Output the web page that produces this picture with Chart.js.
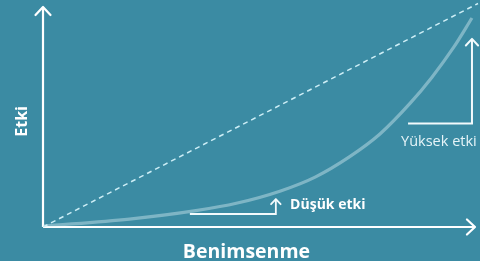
<!DOCTYPE html>
<html>
<head>
<meta charset="utf-8">
<script src="https://cdn.jsdelivr.net/npm/chart.js@4/dist/chart.umd.min.js"></script>
<style>
  html, body { margin: 0; padding: 0; background: #3b8ba3; }
  #wrap { width: 480px; height: 261px; position: relative; }
</style>
</head>
<body>
<div id="wrap"><canvas id="grafico"></canvas></div>
<script>
// dados (escala 0..100 nos dois eixos)
var curva_x = [0, 20, 35, 45, 55, 63, 71, 78, 85, 90, 95, 99.3];
var curva_y = [0.4, 3.6, 7.3, 10.9, 16.4, 22.7, 32, 42.3, 56.3, 68, 81.5, 95];
var diagonal_x = [0, 100.7];
var diagonal_y = [0, 101.6];
var baixo_x = [34, 53.9, 53.9];
var baixo_y = [5.9, 5.9, 12.7];
var alto_x = [84.5, 99.3, 99.3];
var alto_y = [47, 47, 85.5];
var titulo_x = 'Benimsenme';
var titulo_y = 'Etki';
var rotulo_baixo = 'Düşük etki';
var rotulo_alto = 'Yüksek etki';

function pares(xs, ys) {
    var out = [];
    for (var i = 0; i < xs.length; i++) {
        out.push({ x: xs[i], y: ys[i] });
    }
    return out;
}

// desenha a ponta de seta no ultimo ponto das linhas marcadas
var setas = {
    id: 'setas',
    afterDatasetsDraw: function (chart) {
        var ctx = chart.ctx;
        chart.data.datasets.forEach(function (ds, i) {
            if (!ds.seta) return;
            var pts = chart.getDatasetMeta(i).data;
            var a = pts[pts.length - 2], b = pts[pts.length - 1];
            var ang = Math.atan2(b.y - a.y, b.x - a.x);
            var t = ds.seta;
            ctx.save();
            ctx.strokeStyle = ds.borderColor;
            ctx.lineWidth = ds.borderWidth;
            ctx.lineCap = 'round';
            ctx.lineJoin = 'round';
            ctx.beginPath();
            ctx.moveTo(b.x - t * Math.cos(ang - 0.75), b.y - t * Math.sin(ang - 0.75));
            ctx.lineTo(b.x, b.y);
            ctx.lineTo(b.x - t * Math.cos(ang + 0.75), b.y - t * Math.sin(ang + 0.75));
            ctx.stroke();
            ctx.restore();
        });
    }
};

// textos posicionados pelas escalas
var textos = {
    id: 'textos',
    afterDraw: function (chart) {
        var ctx = chart.ctx;
        var sx = chart.scales.x, sy = chart.scales.y;
        ctx.save();
        ctx.fillStyle = '#ffffff';
        ctx.textBaseline = 'middle';

        ctx.font = 'bold 19.5px "Open Sans"';
        ctx.textAlign = 'center';
        ctx.fillText(titulo_x, sx.getPixelForValue(47.1), sy.getPixelForValue(0) + 25);

        ctx.save();
        ctx.translate(sx.getPixelForValue(0) - 21, sy.getPixelForValue(48));
        ctx.rotate(-Math.PI / 2);
        ctx.font = 'bold 16px "Open Sans"';
        ctx.fillText(titulo_y, 0, 0);
        ctx.restore();

        ctx.font = 'bold 14px "Open Sans"';
        ctx.textAlign = 'left';
        ctx.fillText(rotulo_baixo, sx.getPixelForValue(57.2), sy.getPixelForValue(9.8));

        ctx.font = '14.5px "Open Sans"';
        ctx.fillStyle = '#e6f4f8';
        ctx.textAlign = 'right';
        ctx.fillText(rotulo_alto, sx.getPixelForValue(100.4), sy.getPixelForValue(38.6));
        ctx.restore();
    }
};

var ctx = document.getElementById('grafico').getContext('2d');
var myChart = new Chart(ctx, {
    type: 'line',
    data: {
        datasets: [
            {
                data: pares(diagonal_x, diagonal_y),
                borderColor: '#cdeef6',
                borderWidth: 1.5,
                borderDash: [5, 4],
                pointRadius: 0,
                clip: false
            },
            {
                data: pares(curva_x, curva_y),
                borderColor: 'rgba(220,240,246,0.42)',
                borderWidth: 3.2,
                cubicInterpolationMode: 'monotone',
                pointRadius: 0
            },
            {
                data: pares(baixo_x, baixo_y),
                borderColor: '#f2fafc',
                borderWidth: 1.8,
                pointRadius: 0,
                seta: 7
            },
            {
                data: pares(alto_x, alto_y),
                borderColor: '#f2fafc',
                borderWidth: 2,
                pointRadius: 0,
                seta: 9
            },
            {
                data: pares([0, 0], [0, 100]),
                borderColor: '#ffffff',
                borderWidth: 2.2,
                pointRadius: 0,
                clip: false,
                seta: 11
            },
            {
                data: pares([0, 100], [0, 0]),
                borderColor: '#ffffff',
                borderWidth: 2.2,
                pointRadius: 0,
                clip: false,
                seta: 11
            }
        ]
    },
    options: {
        responsive: true,
        maintainAspectRatio: false,
        animation: false,
        layout: { padding: { left: 43, right: 5, top: 7, bottom: 34 } },
        plugins: {
            legend: { display: false },
            tooltip: { enabled: false }
        },
        scales: {
            x: { type: 'linear', min: 0, max: 100, display: false },
            y: { type: 'linear', min: 0, max: 100, display: false }
        }
    },
    plugins: [setas, textos]
});
</script>
</body>
</html>
